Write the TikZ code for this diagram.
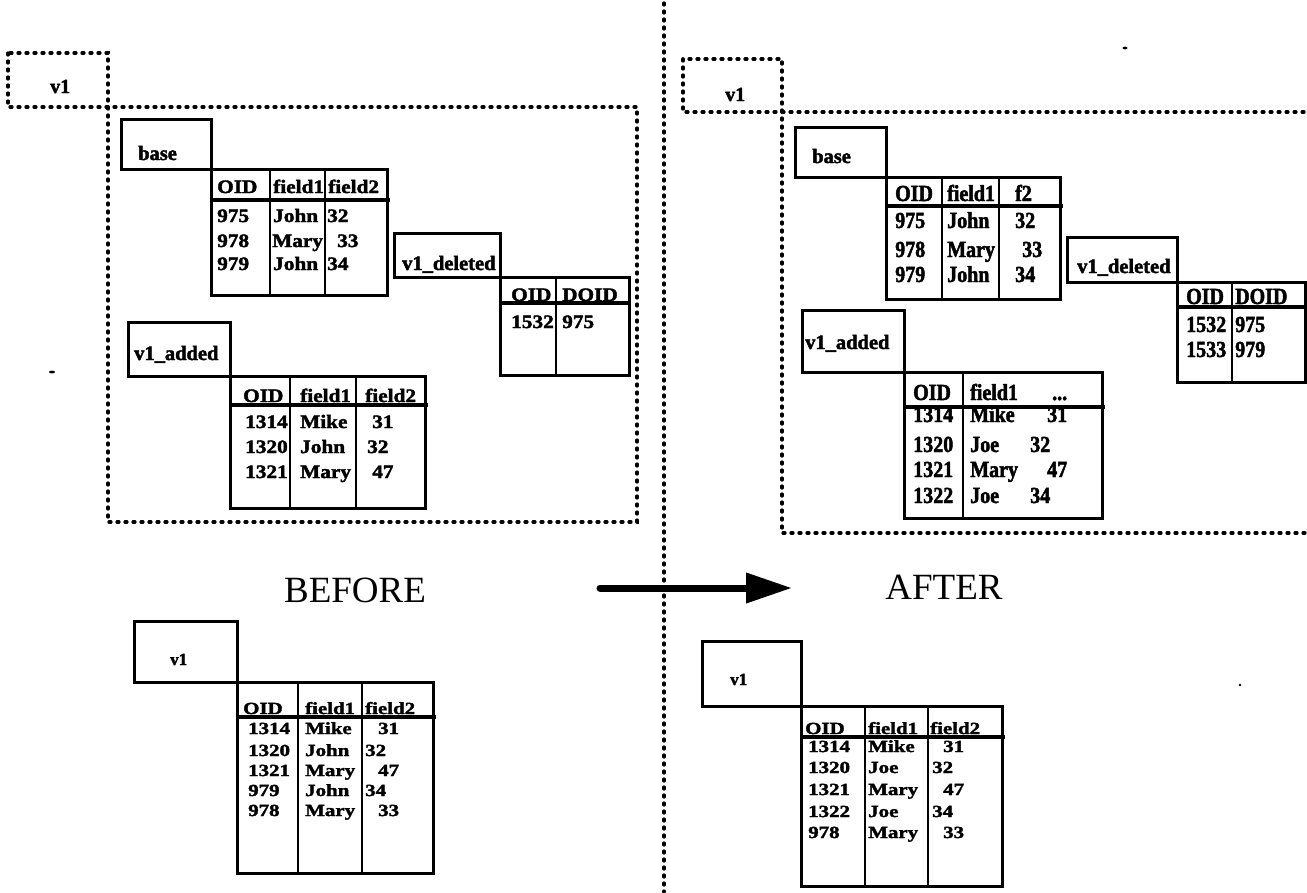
\documentclass[tikz,border=0pt]{standalone}
\usepackage{fontspec}
\setmainfont{Liberation Serif}
\newfontfamily\Lfont[FakeStretch=1.12,BoldFeatures={FakeBold=2}]{Liberation Serif}
\newfontfamily\Rfont[FakeStretch=0.87,BoldFeatures={FakeBold=2}]{Liberation Serif}
\newfontfamily\Bfont[FakeStretch=1.23,BoldFeatures={FakeBold=2}]{Liberation Serif}
\newfontfamily\Nfont[BoldFeatures={FakeBold=2}]{Liberation Serif}
\usetikzlibrary{arrows.meta}
\tikzset{
 dotln/.style={line width=3.2pt, dash pattern=on 2pt off 6pt, line cap=round},
 tabbox/.style={line width=3pt, line join=miter},
 sepln/.style={line width=2.6pt},
 hdrln/.style={line width=3.6pt},
 cell/.style={anchor=base west, inner sep=0pt, font=\Lfont\bfseries\fontsize{19}{20}\selectfont},
 rcell/.style={anchor=base west, inner sep=0pt, font=\Rfont\bfseries\fontsize{23}{24}\selectfont},
 bcell/.style={anchor=base west, inner sep=0pt, font=\Bfont\bfseries\fontsize{17}{18}\selectfont},
 lbl/.style={anchor=base west, inner sep=0pt, font=\Nfont\bfseries\fontsize{20.5}{22}\selectfont},
 vlbl/.style={anchor=base west, inner sep=0pt, font=\Nfont\bfseries\fontsize{20}{22}\selectfont},
 blbl/.style={anchor=base west, inner sep=0pt, font=\Nfont\bfseries\fontsize{17}{18}\selectfont},
 title/.style={inner sep=0pt, font=\fontsize{37}{40}\selectfont},
 bigarrow/.style={line width=7pt, line cap=round, -{Triangle[length=46pt,width=29pt]}},
}
\newcommand\trow[4][cell]{\foreach \cx/\ct [count=\ci] in {#4}{\node[#1] (#2-\ci) at (\cx,#3) {\ct};}}
\begin{document}
\begin{tikzpicture}[x=1pt,y=-1pt]
\useasboundingbox (0,0) rectangle (1307,892);
% divider
\draw[dotln] (664,3) -- (664,892);

% ================= LEFT (BEFORE) =================
\draw[dotln] (8,53) rectangle (108,107);
\node[vlbl] (Lv1) at (50,93) {v1};
\draw[dotln] (108,107) rectangle (637,522);

% base
\draw[tabbox] (121,119) rectangle (211,169);
\node[lbl] (Lbase) at (138,160) {base};
\draw[tabbox] (211,169) rectangle (387,295);
\draw[sepln] (270,169) -- (270,295) (325,169) -- (325,295);
\draw[hdrln] (211,200) -- (390,200);
\trow{LBh}{193}{217/OID,273/field1,328/field2}
\trow{LBa}{222}{217/975,273/John,327/32}
\trow{LBb}{247}{217/978,272/Mary,337/33}
\trow{LBc}{270}{217/979,273/John,327/34}

% v1_deleted
\draw[tabbox] (394,233) rectangle (500,277);
\node[lbl] (Ldel) at (402,270) {v1\_deleted};
\draw[tabbox] (500,277) rectangle (629,375);
\draw[sepln] (556,277) -- (556,375);
\draw[hdrln] (500,303) -- (631,303);
\trow{LDh}{301}{511/OID,562/DOID}
\trow{LDa}{328}{511/1532,562/975}

% v1_added
\draw[tabbox] (128,322) rectangle (230,376);
\node[lbl] (Ladd) at (134,360) {v1\_added};
\draw[tabbox] (230,376) rectangle (425,508);
\draw[sepln] (290,376) -- (290,508) (356,376) -- (356,508);
\draw[hdrln] (230,405) -- (428,405);
\trow{LAh}{402}{243/OID,300/field1,365/field2}
\trow{LAa}{428}{245/1314,300/Mike,372/31}
\trow{LAb}{453}{245/1320,300/John,367/32}
\trow{LAc}{478}{245/1321,300/Mary,372/47}

% bottom-left v1
\draw[tabbox] (134,621) rectangle (237,682);
\node[blbl] (BLv1) at (170,665) {v1};
\draw[tabbox] (237,682) rectangle (433,873);
\draw[sepln] (298,682) -- (298,873) (362,682) -- (362,873);
\draw[hdrln] (237,717) -- (436,717);
\trow[bcell]{BLh}{714}{243/OID,305/field1,365/field2}
\trow[bcell]{BLa}{734}{248/1314,305/Mike,378/31}
\trow[bcell]{BLb}{756}{248/1320,305/John,365/32}
\trow[bcell]{BLc}{776}{248/1321,305/Mary,378/47}
\trow[bcell]{BLd}{796}{248/979,305/John,365/34}
\trow[bcell]{BLe}{816}{248/978,305/Mary,378/33}

% ================= RIGHT (AFTER) =================
\draw[dotln] (683,59) rectangle (782,112);
\node[vlbl] (Rv1) at (725,101) {v1};
\draw[dotln] (1312,112) -- (782,112) -- (782,533) -- (1312,533);

% base
\draw[tabbox] (795,127) rectangle (886,177);
\node[lbl] (Rbase) at (812,163) {base};
\draw[tabbox] (886,177) rectangle (1060,299);
\draw[sepln] (942,177) -- (942,299) (999,177) -- (999,299);
\draw[hdrln] (886,206) -- (1063,206);
\trow[rcell]{RBh}{201}{895/OID,947/field1,1015/f2}
\trow[rcell]{RBa}{228}{895/975,947/John,1015/32}
\trow[rcell]{RBb}{257}{895/978,947/Mary,1022/33}
\trow[rcell]{RBc}{282}{895/979,947/John,1015/34}

% v1_deleted
\draw[tabbox] (1067,237) rectangle (1177,282);
\node[lbl] (Rdel) at (1077,273) {v1\_deleted};
\draw[tabbox] (1177,282) rectangle (1305,382);
\draw[sepln] (1232,282) -- (1232,382);
\draw[hdrln] (1177,307) -- (1307,307);
\trow[rcell]{RDh}{304}{1186/OID,1235/DOID}
\trow[rcell]{RDa}{332}{1186/1532,1235/975}
\trow[rcell]{RDb}{357}{1186/1533,1235/979}

% v1_added
\draw[tabbox] (802,310) rectangle (904,372);
\node[lbl] (Radd) at (805,349) {v1\_added};
\draw[tabbox] (904,372) rectangle (1102,518);
\draw[sepln] (963,372) -- (963,518);
\trow[rcell]{RAh}{400}{913/OID,970/field1}
\node[rcell] (RAh-3) at (1052,400) {...};
\trow[rcell]{RAa}{422}{913/1314,970/Mike,1047/31}
\trow[rcell]{RAb}{452}{913/1320,970/Joe,1030/32}
\trow[rcell]{RAc}{477}{913/1321,970/Mary,1047/47}
\trow[rcell]{RAd}{503}{913/1322,970/Joe,1030/34}
\draw[hdrln] (904,407) -- (1105,407);

% bottom-right v1
\draw[tabbox] (702,641) rectangle (801,706);
\node[blbl] (BRv1) at (730,685) {v1};
\draw[tabbox] (801,706) rectangle (1002,886);
\draw[sepln] (865,706) -- (865,886) (928,706) -- (928,886);
\draw[hdrln] (801,737) -- (1005,737);
\trow[bcell]{BRh}{734}{805/OID,868/field1,930/field2}
\trow[bcell]{BRa}{752}{808/1314,868/Mike,943/31}
\trow[bcell]{BRb}{773}{808/1320,868/Joe,932/32}
\trow[bcell]{BRc}{795}{808/1321,868/Mary,943/47}
\trow[bcell]{BRd}{817}{808/1322,868/Joe,932/34}
\trow[bcell]{BRe}{838}{808/978,868/Mary,943/33}

% ================= titles and arrow =================
\node[title] (before) at (355,590) {BEFORE};
\node[title] (after) at (944,587) {AFTER};
\coordinate (arrS) at (600,588);
\coordinate (arrE) at (792,588);
\draw[bigarrow] (arrS) -- (arrE);

% scan specks
\fill (52,372) ellipse (3pt and 1.4pt);
\fill (1125,48) ellipse (2.5pt and 1.4pt);
\fill (1240,685) circle (1.3pt);
\end{tikzpicture}
\end{document}
